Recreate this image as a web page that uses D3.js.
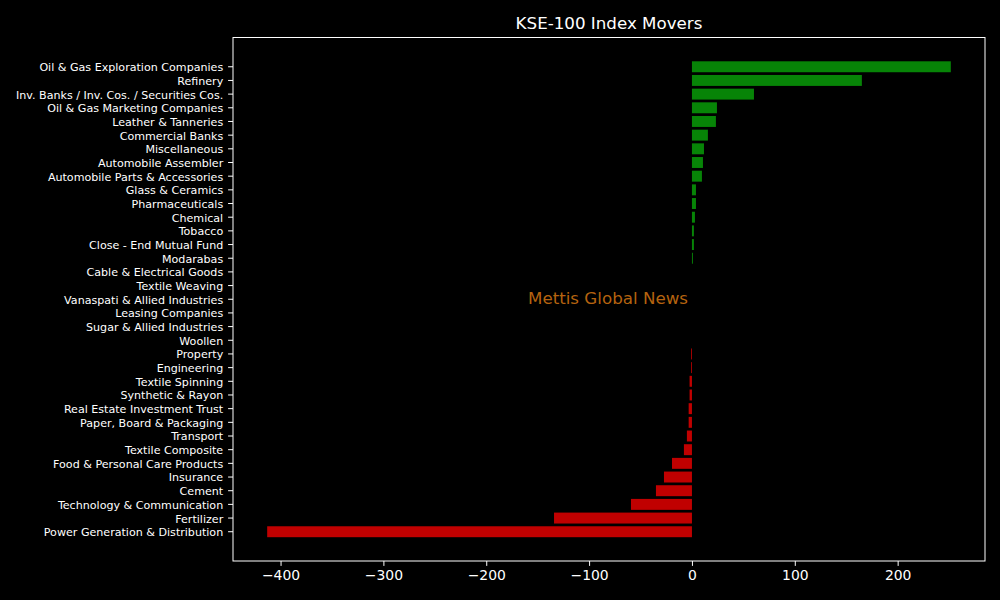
<!DOCTYPE html>
<html>
<head>
<meta charset="utf-8">
<script src="https://cdn.jsdelivr.net/npm/d3@7"></script>
<style>
  body { margin: 0; background: #000; }
  svg { display: block; font-family: 'DejaVu Sans', sans-serif; }
  .axis text { fill: #fff; font-family: 'DejaVu Sans', sans-serif; }
  .axis line, .axis path { stroke: #fff; }
</style>
</head>
<body>
<svg id="chart" width="1000" height="600"></svg>
<script>
const sectors = [
  'Oil & Gas Exploration Companies', 'Refinery', 'Inv. Banks / Inv. Cos. / Securities Cos.',
  'Oil & Gas Marketing Companies', 'Leather & Tanneries', 'Commercial Banks', 'Miscellaneous',
  'Automobile Assembler', 'Automobile Parts & Accessories', 'Glass & Ceramics', 'Pharmaceuticals',
  'Chemical', 'Tobacco', 'Close - End Mutual Fund', 'Modarabas', 'Cable & Electrical Goods',
  'Textile Weaving', 'Vanaspati & Allied Industries', 'Leasing Companies', 'Sugar & Allied Industries',
  'Woollen', 'Property', 'Engineering', 'Textile Spinning', 'Synthetic & Rayon',
  'Real Estate Investment Trust', 'Paper, Board & Packaging', 'Transport', 'Textile Composite',
  'Food & Personal Care Products', 'Insurance', 'Cement', 'Technology & Communication',
  'Fertilizer', 'Power Generation & Distribution'
];
const points = [
  251.7, 165.2, 60.3, 24.3, 23.3, 15.5, 11.7, 10.7, 9.7, 3.9, 3.9, 2.9, 1.9, 1.9, 0.9,
  0, 0, 0, 0, 0, 0,
  -0.8, -0.8, -2.3, -2.3, -3.2, -3.2, -4.9, -7.8, -19.4, -27.2, -35.0, -59.3, -134.1, -413.0
];
const xTicks = [-400, -300, -200, -100, 0, 100, 200];

const svg = d3.select('#chart');
const margin = {top: 37.5, right: 15, bottom: 39, left: 233};
const width = 1000 - margin.left - margin.right;
const height = 600 - margin.top - margin.bottom;
const chart = svg.append('g').attr('transform', 'translate(' + margin.left + ',' + margin.top + ')');

const lo = d3.min(points), hi = d3.max(points);
const pad = (hi - lo) * 0.05;
const x = d3.scaleLinear().domain([lo - pad, hi + pad]).range([0, width]);
const y = d3.scaleBand().domain(sectors).range([0, height]).paddingInner(0.2).paddingOuter(1.74);

chart.append('g')
  .selectAll('rect')
  .data(points)
  .enter().append('rect')
  .attr('x', d => x(Math.min(0, d)))
  .attr('y', (d, i) => y(sectors[i]))
  .attr('width', d => Math.abs(x(d) - x(0)))
  .attr('height', y.bandwidth())
  .attr('fill', d => d >= 0 ? '#078407' : '#c00000');

chart.append('g')
  .attr('class', 'axis')
  .attr('transform', 'translate(0,' + height + ')')
  .call(d3.axisBottom(x).tickValues(xTicks).tickSize(4.9).tickPadding(4.5)
    .tickFormat(d => d < 0 ? '\u2212' + Math.abs(d) : d))
  .call(g => g.select('.domain').remove())
  .selectAll('text').style('font-size', '13.9px');

chart.append('g')
  .attr('class', 'axis')
  .call(d3.axisLeft(y).tickSize(4.9).tickPadding(4.9))
  .call(g => g.select('.domain').remove())
  .selectAll('text').style('font-size', '11.1px').attr('dy', '0.4em');

chart.append('rect')
  .attr('width', width).attr('height', height)
  .attr('fill', 'none').attr('stroke', '#fff').attr('stroke-width', 1);

chart.append('text')
  .attr('x', width / 2 - 1).attr('y', height / 2 - 1)
  .attr('text-anchor', 'middle').attr('dominant-baseline', 'central')
  .attr('fill', '#b5630f').style('font-size', '16.7px')
  .text('Mettis Global News');

svg.append('text')
  .attr('x', margin.left + width / 2).attr('y', 29)
  .attr('text-anchor', 'middle')
  .attr('fill', '#fff').style('font-size', '16.7px')
  .text('KSE-100 Index Movers');
</script>
</body>
</html>
